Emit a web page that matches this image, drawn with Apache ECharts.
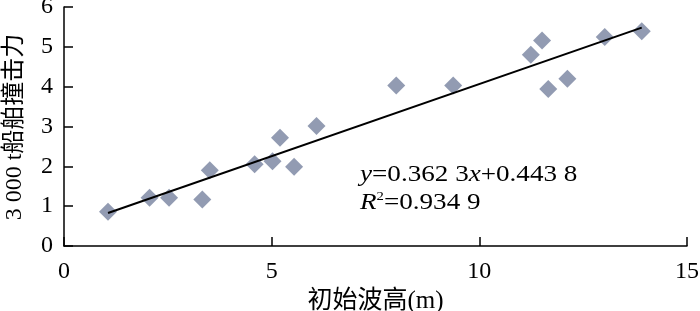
<!DOCTYPE html>
<html><head><meta charset="utf-8">
<script src="https://cdn.jsdelivr.net/npm/echarts@6/dist/echarts.min.js"></script>
<style>html,body{margin:0;padding:0;background:#fff}#c{width:700px;height:311px}</style>
</head><body><div id="c"></div>
<script>
const waveHeight = [1.06, 2.06, 2.53, 3.33, 3.51, 4.59, 5.02, 5.20, 5.54, 6.08, 8.00, 9.37, 11.24, 11.51, 11.66, 12.12, 13.02, 13.91];
const impactForce = [0.86, 1.21, 1.21, 1.17, 1.90, 2.05, 2.13, 2.72, 1.99, 3.01, 4.03, 4.03, 4.80, 5.16, 3.94, 4.20, 5.25, 5.39];
const slope = 0.3623, intercept = 0.4438;
const xName = '初始波高(m)';
const yName = '3 000 t船舶撞击力';

const pts = waveHeight.map((x, i) => [x, impactForce[i]]);
const xMin = Math.min(...waveHeight), xMax = Math.max(...waveHeight);
const fit = [[xMin, slope * xMin + intercept], [xMax, slope * xMax + intercept]];

const serif = '"Liberation Serif","Times New Roman",serif';
const cjk = '"Liberation Serif","Noto Sans CJK SC",serif';
const chart = echarts.init(document.getElementById('c'), null, {renderer: 'canvas'});
chart.setOption({
  animation: false,
  backgroundColor: '#fff',
  grid: {left: 64, right: 13, top: 7, bottom: 65, containLabel: false, outerBoundsMode: 'none'},
  xAxis: {
    type: 'value', min: 0, max: 15, interval: 5,
    axisLine: {lineStyle: {color: '#000', width: 1.5}},
    axisTick: {inside: true, length: 9, lineStyle: {color: '#000', width: 1.5}},
    splitLine: {show: false},
    axisLabel: {color: '#000', fontSize: 24, fontFamily: serif, margin: 14},
    name: xName, nameLocation: 'middle', nameGap: 42,
    nameTextStyle: {color: '#000', fontSize: 25, fontFamily: cjk}
  },
  yAxis: {
    type: 'value', min: 0, max: 6, interval: 1,
    axisLine: {show: true, lineStyle: {color: '#000', width: 1.5}},
    axisTick: {show: true, inside: true, length: 9, lineStyle: {color: '#000', width: 1.5}},
    splitLine: {show: false},
    axisLabel: {color: '#000', fontSize: 24, fontFamily: serif, margin: 11}
  },
  graphic: [
    {type: 'text', x: 15, y: 127, rotation: Math.PI / 2, style: {text: yName, fill: '#000', font: '24px ' + cjk, textAlign: 'center', textVerticalAlign: 'middle'}},
    {type: 'text', x: 360, y: 175, scaleX: 1.13, style: {
      text: '{i|y}=0.362 3{i|x}+0.443 8', textVerticalAlign: 'middle',
      rich: {i: {fontStyle: 'italic', fontSize: 24, fontFamily: serif, fill: '#000'}},
      font: '24px ' + serif, fill: '#000'}},
    {type: 'text', x: 360, y: 203, scaleX: 1.13, style: {
      text: '{i|R}{s|2}=0.934 9', textVerticalAlign: 'middle',
      rich: {i: {fontStyle: 'italic', fontSize: 24, fontFamily: serif, fill: '#000'},
             s: {fontSize: 13, fontFamily: serif, fill: '#000', verticalAlign: 'top', padding: [0,0,12,0]}},
      font: '24px ' + serif, fill: '#000'}}
  ],
  series: [
    {type: 'line', data: fit, symbol: 'none', lineStyle: {color: '#000', width: 2}, z: 3},
    {type: 'scatter', data: pts, symbol: 'diamond', symbolSize: 18, itemStyle: {color: '#77829f'}, z: 2}
  ]
});
</script></body></html>
